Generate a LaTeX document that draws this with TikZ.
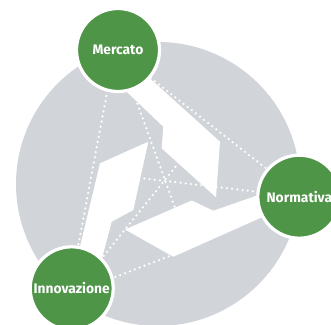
\documentclass[tikz,border=0pt]{standalone}
\usepackage{fontspec}
\setmainfont{Fira Sans}
\usetikzlibrary{backgrounds,calc}
\definecolor{greyc}{HTML}{D1D5D9}
\definecolor{greenc}{HTML}{4F9548}
\begin{document}
\begin{tikzpicture}[x=1pt,y=-1pt,
  hub/.style={circle, fill=greenc, draw=white, line width=3.2pt, minimum size=83pt, inner sep=0pt, text=white, font=\bfseries\fontsize{13.8}{14}\selectfont},
  dots/.style={white, line width=2.5pt, line cap=round, dash pattern=on 0pt off 5.2pt},
  band/.style={fill=white, draw=none}]
\useasboundingbox (0,0) rectangle (331,324);
\node[hub] (mer) at (118,50) {Mercato};
\node[hub] (nor) at (299.3,196.7) {Normativa};
\node[hub] (inn) at (71.7,288.3) {Innovazione};
\coordinate (e1) at (176.5,212);
\coordinate (e2) at (180.5,160.6);
\coordinate (e3) at (136,177.5);
\coordinate (e6) at (180,252);
\begin{scope}[on background layer]
  \fill[greyc] (158,184) circle[radius=142pt];
  \draw[dots] (mer.center) -- (e1);
  \draw[dots] ($(inn.center)+(6,0)$) -- (e2);
  \draw[dots] (nor.center) -- (e3);
  \draw[dots] ($(mer.center)+(0,2.5)$) -- ($(nor.center)+(0,-2.3)$);
  \draw[dots] ($(mer.center)+(-3,0)$) -- ($(inn.center)+(-1.5,0)$);
  \draw[dots] ($(inn.center)+(0,5.5)$) -- (e6);
  \fill[band] (115,80.7) -- (163.3,126.7) -- (161.7,148.3) -- (216,197.3) -- (220,141.7) -- (135,65) -- cycle;
  \fill[band] (74.4,270) -- (100,163.3) -- (148.3,141.7) -- (133.3,210) -- (111.7,221.7) -- (98.9,270) -- cycle;
  \fill[band] (285,185.8) -- (213.3,210.7) -- (191.7,200.5) -- (125,229.5) -- (173.3,256.7) -- (285,207) -- cycle;
\end{scope}
\end{tikzpicture}
\end{document}
